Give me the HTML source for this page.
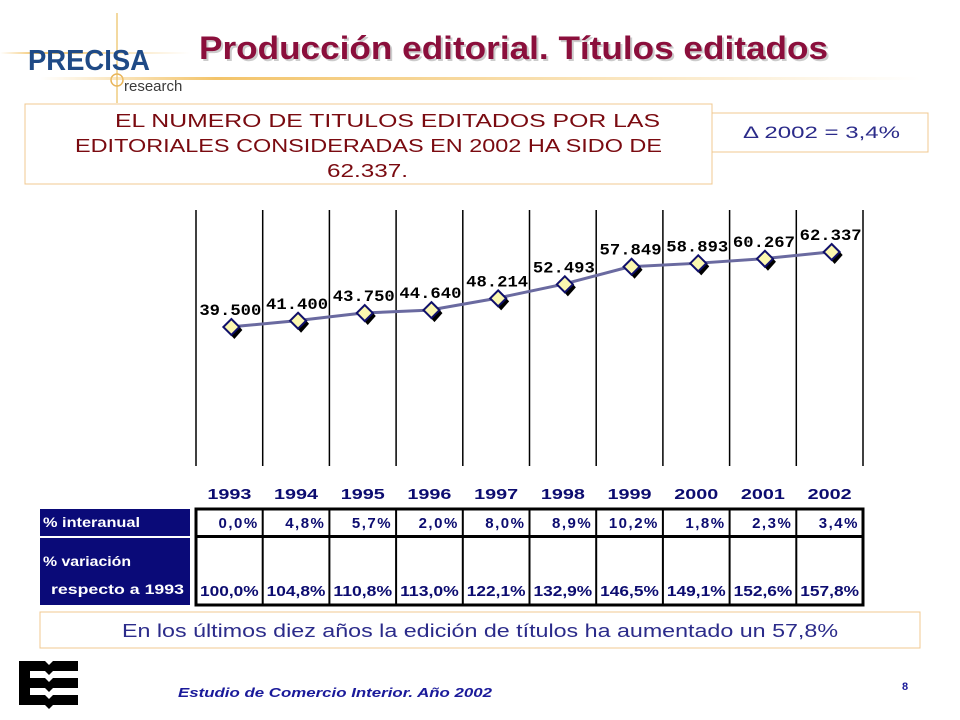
<!DOCTYPE html>
<html><head><meta charset="utf-8"><style>
body{margin:0;background:#fff;}
svg{display:block;font-family:"Liberation Sans",sans-serif;}
</style></head><body>
<svg width="960" height="720" viewBox="0 0 960 720">
<defs>
<linearGradient id="gl" x1="0" x2="1"><stop offset="0" stop-color="#f3c46a" stop-opacity="0"/><stop offset="0.2" stop-color="#f3c46a"/><stop offset="1" stop-color="#f3c46a" stop-opacity="0"/></linearGradient>
</defs>
<g>
<rect x="0" y="52" width="190" height="2" fill="url(#gl)"/>
<rect x="116" y="13" width="2" height="90" fill="#f3d9a0"/>
<text x="28" y="70" font-size="29" font-weight="bold" fill="#1f4a86" textLength="122" lengthAdjust="spacingAndGlyphs">PRECISA</text>
<circle cx="117" cy="80" r="6" fill="none" stroke="#e8b55a" stroke-width="1.5"/>
<text x="124" y="91" font-size="15" fill="#3a3a3a">research</text>
</g>
<rect x="40" y="77" width="880" height="3" fill="url(#gl)"/>
<text x="201" y="61" font-size="32" font-weight="bold" fill="#ccc" textLength="629" lengthAdjust="spacingAndGlyphs">Producción editorial. Títulos editados</text>
<text x="199" y="59" font-size="32" font-weight="bold" fill="#8b0f3c" textLength="629" lengthAdjust="spacingAndGlyphs">Producción editorial. Títulos editados</text>

<g>
<rect x="25" y="104" width="687" height="80" fill="#fff" stroke="#f0c890"/>
<text x="115" y="127" font-size="18" fill="#7a0a10" textLength="545" lengthAdjust="spacingAndGlyphs">EL NUMERO DE TITULOS EDITADOS POR LAS</text>
<text x="75" y="152" font-size="18" fill="#7a0a10" textLength="587" lengthAdjust="spacingAndGlyphs">EDITORIALES CONSIDERADAS  EN 2002 HA SIDO DE</text>
<text x="327" y="177" font-size="18" fill="#7a0a10" textLength="81" lengthAdjust="spacingAndGlyphs">62.337.</text>
</g>
<g>
<rect x="712" y="113" width="216" height="39" fill="#fff" stroke="#f0c890"/>
<text x="743" y="138" font-size="17" fill="#2b2b8a" textLength="157" lengthAdjust="spacingAndGlyphs">Δ 2002 = 3,4%</text>
</g>

<g id="chart"></g>
<g id="table"></g>

<g>
<rect x="40" y="612" width="880" height="36" fill="#fff" stroke="#f0c890"/>
<text x="122" y="637" font-size="18" fill="#2b2b8a" textLength="716" lengthAdjust="spacingAndGlyphs">En los últimos diez años la edición de títulos ha aumentado un 57,8%</text>
</g>
<g fill="#000">
<polygon points="19,661 45,661 49,665 53,661 78,661 78,671 53,671 49,675 45,671 30,671 30,678 45,678 49,682 53,678 78,678 78,688 53,688 49,692 45,688 30,688 30,695 45,695 49,699 53,695 78,695 78,705 53,705 49,709 45,705 19,705"/>
</g>
<text x="178" y="697" font-size="13" font-weight="bold" font-style="italic" fill="#1a1a9a" textLength="314" lengthAdjust="spacingAndGlyphs">Estudio de Comercio Interior. Año 2002</text>
<text x="905" y="690" font-size="11" font-weight="bold" fill="#1a1a9a" text-anchor="middle">8</text>
</svg>
<script>
const years=["1993","1994","1995","1996","1997","1998","1999","2000","2001","2002"];
const titles=[39500,41400,43750,44640,48214,52493,57849,58893,60267,62337];
const titleLabels=["39.500","41.400","43.750","44.640","48.214","52.493","57.849","58.893","60.267","62.337"];
const interanual=["0,0%","4,8%","5,7%","2,0%","8,0%","8,9%","10,2%","1,8%","2,3%","3,4%"];
const variacion=["100,0%","104,8%","110,8%","113,0%","122,1%","132,9%","146,5%","149,1%","152,6%","157,8%"];

const NS="http://www.w3.org/2000/svg";
const x0=196,colW=66.7;
function xCol(i){return x0+colW*i;}
function xC(i){return x0+colW*(i+0.5);}
function yV(v){return 327-(v-39500)*0.003284;}
function mk(tag,attrs,parent,txt){const e=document.createElementNS(NS,tag);for(const k in attrs)e.setAttribute(k,attrs[k]);if(txt!==undefined)e.textContent=txt;parent.appendChild(e);return e;}
const chart=document.getElementById('chart');
for(let i=0;i<=years.length;i++){
  const l=mk('line',{x1:xCol(i),x2:xCol(i),y1:210,y2:466,stroke:'#000','stroke-width':1.5},chart);
  
  
}
let pts=titles.map((v,i)=>xC(i)+','+yV(v)).join(' ');
const pl=mk('polyline',{points:pts,fill:'none',stroke:'#6a6aa0','stroke-width':3},chart);


titles.forEach((v,i)=>{
  const cx=xC(i)+2,cy=yV(v);
  const sh=mk('polygon',{points:`${cx+3},${cy-6} ${cx+11},${cy+3} ${cx+3},${cy+12} ${cx-5},${cy+3}`,fill:'#000'},chart);
  
  
  const m=mk('polygon',{points:`${cx},${cy-8} ${cx+8},${cy} ${cx},${cy+8} ${cx-8},${cy}`,fill:'#fbf7b0',stroke:'#10106a','stroke-width':2},chart);
  
  
  const t=mk('text',{x:cx-32,y:cy-12,'font-size':16,'font-weight':'bold','font-family':'Liberation Mono, monospace',fill:'#000',textLength:62,lengthAdjust:'spacingAndGlyphs'},chart,titleLabels[i]);
  
  
});
const tb=document.getElementById('table');
years.forEach((y,i)=>{
  const t=mk('text',{x:xC(i)-22,y:499,'font-size':15,'font-weight':'bold',fill:'#0c0c70',textLength:44,lengthAdjust:'spacingAndGlyphs'},tb,y);
  
  
});
const r1=mk('rect',{x:40,y:509,width:150,height:27,fill:'#0a0a78'},tb);


const r2=mk('rect',{x:40,y:538,width:150,height:67,fill:'#0a0a78'},tb);


[['% interanual',43,527,97],['% variación',43,566,88],['respecto a 1993',51,594,133]].forEach(a=>{
  const t=mk('text',{x:a[1],y:a[2],'font-size':14,'font-weight':'bold',fill:'#fff',textLength:a[3],lengthAdjust:'spacingAndGlyphs'},tb,a[0]);
  
  
});
const bd=mk('path',{d:`M196,509H863V605H196ZM196,536.5H863`,fill:'none',stroke:'#000','stroke-width':3},tb);


for(let i=1;i<years.length;i++){
  const l=mk('line',{x1:xCol(i),x2:xCol(i),y1:509,y2:605,stroke:'#000','stroke-width':2},tb);
  
  
}
years.forEach((y,i)=>{
  const a=mk('text',{x:xCol(i+1)-4,y:528,'font-size':15,'font-weight':'bold','text-anchor':'end',fill:'#0c0c70','letter-spacing':'1.5'},tb,interanual[i]);
  
  
  const b=mk('text',{x:xCol(i)+4,y:596,'font-size':15,'font-weight':'bold',fill:'#0c0c70',textLength:colW-8,lengthAdjust:'spacingAndGlyphs'},tb,variacion[i]);
  
  
});
</script>
</body></html>
